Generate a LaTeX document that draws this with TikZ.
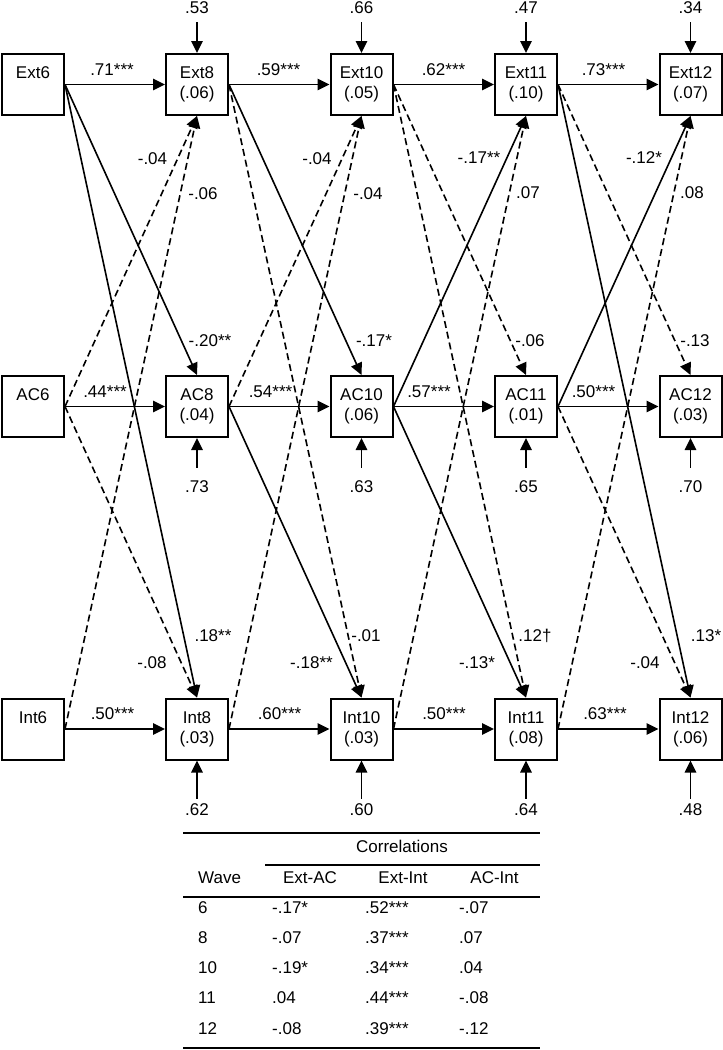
\documentclass[tikz,border=0pt]{standalone}
\usepackage{fontspec}
\setmainfont{Liberation Sans}
\usepackage{tikz}
\usetikzlibrary{arrows.meta,positioning}

\begin{document}
\begin{tikzpicture}[x=1pt,y=1pt,>={Triangle[length=12pt,width=11.5pt]}, var/.style={draw,line width=2pt,minimum width=62pt,minimum height=61pt,inner sep=0pt,align=center,font=\fontsize{17}{20}\selectfont}, lab/.style={inner sep=1pt,font=\fontsize{17}{20}\selectfont}, sig/.style={->,line width=1.6pt}, ns/.style={->,line width=1.6pt,dash pattern=on 7pt off 4pt}, rule/.style={line width=1.4pt}]
  \useasboundingbox (0,0) rectangle (723,-1050);
  % wave 6
  \node[var] (ext6) at (33,-84.5) {Ext6\\\phantom{(.00)}};
  \node[var] (ac6) at (33,-406.5) {AC6\\\phantom{(.00)}};
  \node[var] (int6) at (33,-729) {Int6\\\phantom{(.00)}};
  % later waves with residual arrows
  \foreach \w/\x/\pe/\pa/\pn/\qa/\qb/\qc in {8/197/.06/.04/.03/.53/.73/.62, 10/361.5/.05/.06/.03/.66/.63/.60, 11/526/.10/.01/.08/.47/.65/.64, 12/690.5/.07/.03/.06/.34/.70/.48}{
    \node[var] (ext\w) at (\x,-84.5) {Ext\w\\(\pe)};
    \node[var] (ac\w) at (\x,-406.5) {AC\w\\(\pa)};
    \node[var] (int\w) at (\x,-729) {Int\w\\(\pn)};
    \node[lab] (re\w) at (\x,-7.5) {\qa};
    \node[lab] (ra\w) at (\x,-487) {\qb};
    \node[lab] (rn\w) at (\x,-810) {\qc};
    \draw[sig,shorten <=7.5pt] (re\w) -- (ext\w);
    \draw[sig,shorten <=12pt] (ra\w) -- (ac\w);
    \draw[sig,shorten <=4pt] (rn\w) -- (int\w);
  }
  % stability paths
  \foreach \a/\b in {6/8,8/10,10/11,11/12}{
    \draw[sig] (ext\a) -- (ext\b);
    \draw[sig] (ac\a) -- (ac\b);
    \draw[sig] (int\a) -- (int\b);
  }
  \foreach \x/\y/\t [count=\k] in {112/75/.71***, 278.5/75/.59***, 443.5/75/.62***, 603.5/75/.73***, 105/397/.44***, 270.5/397/.54***, 429/397/.57***, 593.5/397/.50***, 112.5/719/.50***, 279.5/719/.60***, 444/719/.50***, 605/719/.63***}
    \node[lab,anchor=base] (s\k) at (\x,-\y) {\t};
  % cross-lagged paths
  \foreach \s/\f/\t/\a in {sig/ext6/ac8/north, sig/ext6/int8/north, ns/ac6/ext8/south, ns/int6/ext8/south, ns/ac6/int8/north,
      sig/ext8/ac10/north, ns/ext8/int10/north, ns/ac8/ext10/south, ns/int8/ext10/south, sig/ac8/int10/north,
      ns/ext10/ac11/north, ns/ext10/int11/north, sig/ac10/ext11/south, ns/int10/ext11/south, sig/ac10/int11/north,
      ns/ext11/ac12/north, sig/ext11/int12/north, sig/ac11/ext12/south, ns/int11/ext12/south, ns/ac11/int12/north}
    \draw[\s] (\f.east) -- (\t.\a);
  \foreach \x/\y/\t [count=\k] in {210/341/-.20**, 152.5/159/-.04, 203/194/-.06, 213/636/.18**, 152/663/-.08,
      374/341/-.17*, 317/159/-.04, 368/194/-.04, 366/636/-.01, 311.5/663/-.18**,
      530/341/-.06, 479/158/-.17**, 528/193/.07, 535/636/.12†, 477/663/-.13*,
      695/341/-.13, 644/158/-.12*, 692/193/.08, 706/636/.13*, 645/663/-.04}
    \node[lab] (c\k) at (\x,-\y) {\t};
  % correlation table
  \draw[rule] (183,-833) -- (540,-833);
  \draw[rule] (265,-865) -- (540,-865);
  \draw[rule] (183,-897) -- (540,-897);
  \draw[rule] (183,-1048) -- (540,-1048);
  \node[lab,anchor=base] (corr) at (402,-852) {Correlations};
  \node[lab,anchor=base west] (hw) at (197,-883) {Wave};
  \node[lab,anchor=base] (hea) at (310,-883) {Ext-AC};
  \node[lab,anchor=base] (hei) at (403,-883) {Ext-Int};
  \node[lab,anchor=base] (hai) at (494.5,-883) {AC-Int};
  \foreach \w/\p/\q/\r [count=\k] in {6/-.17*/.52***/-.07, 8/-.07/.37***/.07, 10/-.19*/.34***/.04, 11/.04/.44***/-.08, 12/-.08/.39***/-.12}{
    \node[lab,anchor=base west] (tw\k) at (197,{-913-30.25*(\k-1)}) {\w};
    \node[lab,anchor=base west] (tea\k) at (271,{-913-30.25*(\k-1)}) {\p};
    \node[lab,anchor=base west] (tei\k) at (364,{-913-30.25*(\k-1)}) {\q};
    \node[lab,anchor=base west] (tai\k) at (458,{-913-30.25*(\k-1)}) {\r};
  }
\end{tikzpicture}
\end{document}
